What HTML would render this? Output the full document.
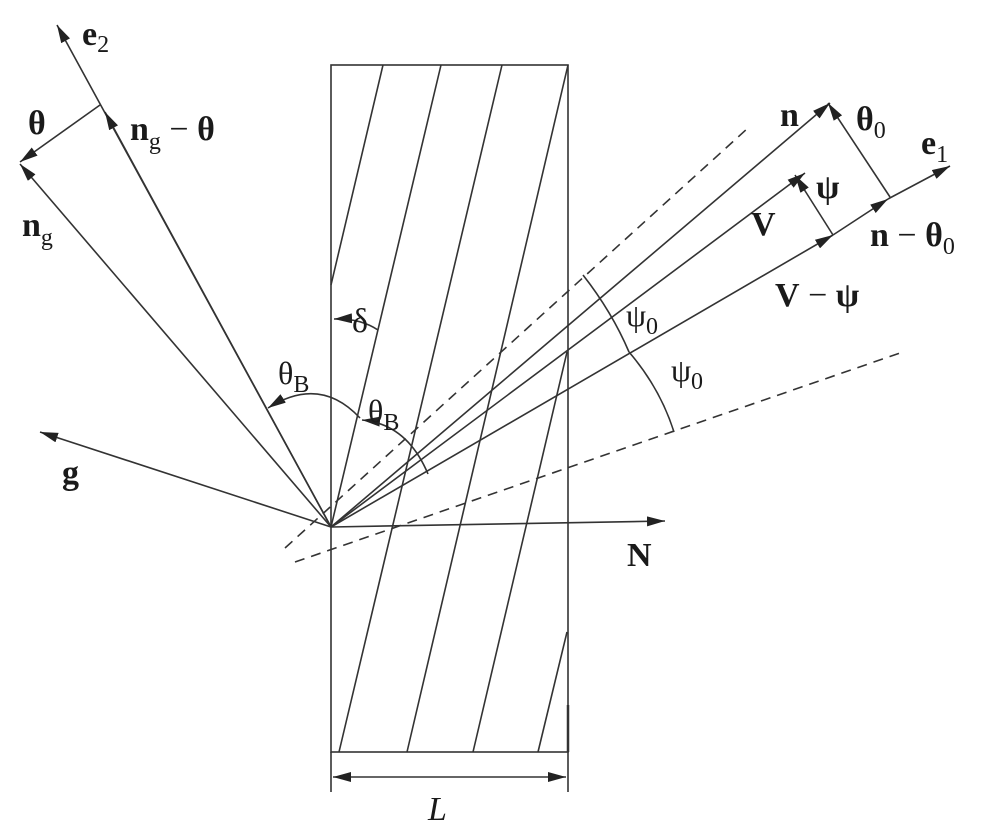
<!DOCTYPE html>
<html><head><meta charset="utf-8"><style>
html,body{margin:0;padding:0;background:#fff}
svg{display:block}
text{font-family:"Liberation Serif",serif;fill:#1a1a1a}
.b{font-weight:bold}
</style></head><body>
<svg width="987" height="831" viewBox="0 0 987 831" xmlns="http://www.w3.org/2000/svg">
<defs>
<marker id="a" viewBox="0 0 10 10" refX="10" refY="5" markerWidth="18" markerHeight="10" preserveAspectRatio="none" markerUnits="userSpaceOnUse" orient="auto">
<path d="M0,0 L10,5 L0,10 z" fill="#222"/></marker>
</defs>
<g stroke="#333" stroke-width="1.6" fill="none">
<rect x="331" y="65" width="237" height="687"/>
<line x1="383" y1="65" x2="331" y2="285"/>
<line x1="441" y1="65" x2="331" y2="527"/>
<line x1="502" y1="65" x2="339" y2="752"/>
<line x1="568" y1="65" x2="407" y2="752"/>
<line x1="567" y1="352" x2="473" y2="752"/>
<line x1="567" y1="632" x2="538" y2="752"/>
<line x1="568" y1="705" x2="568" y2="752" stroke-width="2.5"/>
<line x1="331" y1="752" x2="331" y2="792"/>
<line x1="568" y1="752" x2="568" y2="792"/>
<line x1="400" y1="777" x2="333" y2="777" marker-end="url(#a)"/>
<line x1="500" y1="777" x2="566" y2="777" marker-end="url(#a)"/>
<line x1="400" y1="777" x2="500" y2="777"/>
<line x1="285" y1="548" x2="748" y2="128" stroke-dasharray="10,7"/>
<line x1="295" y1="562" x2="900" y2="353" stroke-dasharray="10,7"/>
<line x1="331" y1="527" x2="57" y2="25" marker-end="url(#a)"/>
<line x1="331" y1="527" x2="105" y2="112" marker-end="url(#a)"/>
<line x1="100" y1="105" x2="20" y2="162" marker-end="url(#a)"/>
<line x1="331" y1="527" x2="20" y2="164" marker-end="url(#a)"/>
<line x1="331" y1="527" x2="40" y2="432" marker-end="url(#a)"/>
<line x1="331" y1="527" x2="665" y2="521" marker-end="url(#a)"/>
<line x1="331" y1="527" x2="830" y2="103" marker-end="url(#a)"/>
<line x1="331" y1="527" x2="805" y2="173" marker-end="url(#a)"/>
<line x1="331" y1="527" x2="833" y2="235" marker-end="url(#a)"/>
<line x1="833" y1="235" x2="888" y2="199" marker-end="url(#a)"/>
<line x1="888" y1="199" x2="950" y2="166" marker-end="url(#a)"/>
<line x1="890" y1="197" x2="828" y2="103" marker-end="url(#a)"/>
<line x1="833" y1="235" x2="795" y2="175" marker-end="url(#a)"/>
<path d="M583,275 Q612,312 629,352"/>
<path d="M629,352 Q660,388 674,432"/>
<path d="M378,330 Q360,318 334,319" marker-end="url(#a)"/>
<path d="M360,418 Q320,375 268,408" marker-end="url(#a)"/>
<path d="M428,474 Q407,424 362,420" marker-end="url(#a)"/>
</g>
<g font-size="34">
<text x="82" y="45" class="b">e<tspan font-size="24" font-weight="normal" dy="7">2</tspan></text>
<text x="28" y="134" class="b">θ</text>
<text x="130" y="140" class="b">n<tspan font-size="24" font-weight="normal" dy="9">g</tspan><tspan dy="-9" font-weight="normal"> − </tspan>θ</text>
<text x="22" y="236" class="b">n<tspan font-size="24" font-weight="normal" dy="9">g</tspan></text>
<text x="278" y="384" font-size="32">θ<tspan font-size="24" dy="8">B</tspan></text>
<text x="368" y="422" font-size="32">θ<tspan font-size="24" dy="8">B</tspan></text>
<text x="352" y="332" font-size="34">δ</text>
<text x="62" y="484" class="b">g</text>
<text x="627" y="566" class="b">N</text>
<text x="780" y="126" class="b">n</text>
<text x="856" y="130" class="b">θ<tspan font-size="24" font-weight="normal" dy="8">0</tspan></text>
<text x="921" y="154" class="b">e<tspan font-size="24" font-weight="normal" dy="8">1</tspan></text>
<text x="816" y="198" class="b">ψ</text>
<text x="751" y="235" class="b">V</text>
<text x="870" y="246" class="b">n<tspan font-weight="normal"> − </tspan>θ<tspan font-size="24" font-weight="normal" dy="8">0</tspan></text>
<text x="775" y="306" class="b">V<tspan font-weight="normal"> − </tspan>ψ</text>
<text x="626" y="326" font-size="32">ψ<tspan font-size="24" dy="8">0</tspan></text>
<text x="671" y="381" font-size="32">ψ<tspan font-size="24" dy="8">0</tspan></text>
<text x="428" y="820" font-size="34" font-style="italic">L</text>
</g>
</svg>
</body></html>
